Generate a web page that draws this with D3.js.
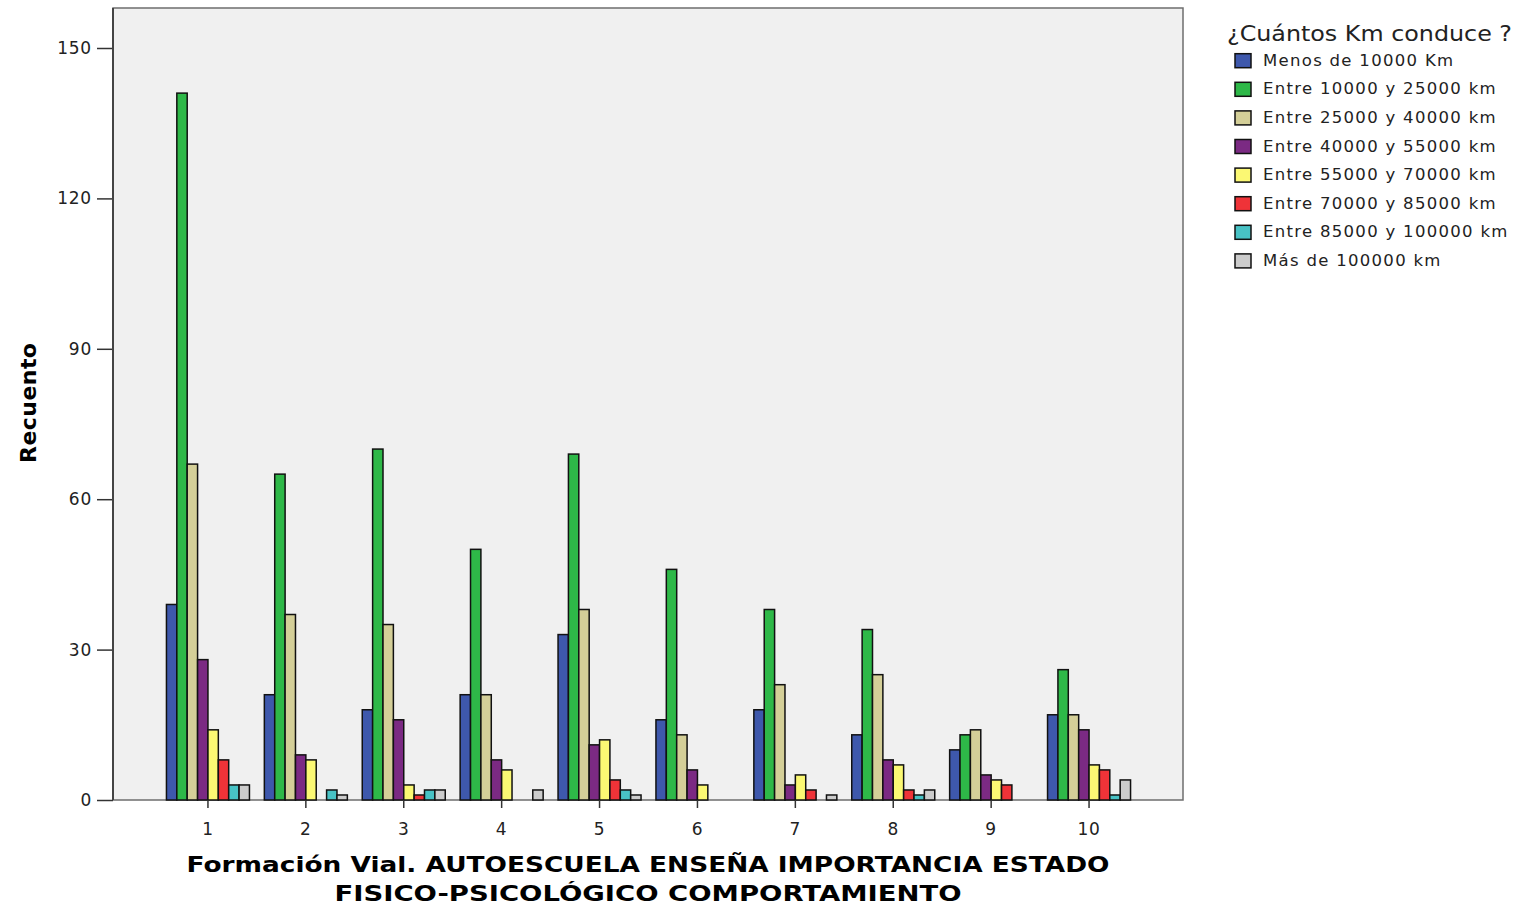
<!DOCTYPE html>
<html>
<head>
<meta charset="utf-8">
<script src="https://cdn.jsdelivr.net/npm/d3@7"></script>
<style>
  body { margin: 0; background: #fff; }
  text { font-family: "DejaVu Sans", Verdana, sans-serif; }
</style>
</head>
<body>
<svg id="chart" width="1522" height="910"></svg>
<script>
// Data
const categories = ["1", "2", "3", "4", "5", "6", "7", "8", "9", "10"];
const seriesNames = [
  "Menos de 10000 Km",
  "Entre 10000 y 25000 km",
  "Entre 25000 y 40000 km",
  "Entre 40000 y 55000 km",
  "Entre 55000 y 70000 km",
  "Entre 70000 y 85000 km",
  "Entre 85000 y 100000 km",
  "Más de 100000 km"
];
const menos10000 = [39, 21, 18, 21, 33, 16, 18, 13, 10, 17];
const e10000_25000 = [141, 65, 70, 50, 69, 46, 38, 34, 13, 26];
const e25000_40000 = [67, 37, 35, 21, 38, 13, 23, 25, 14, 17];
const e40000_55000 = [28, 9, 16, 8, 11, 6, 3, 8, 5, 14];
const e55000_70000 = [14, 8, 3, 6, 12, 3, 5, 7, 4, 7];
const e70000_85000 = [8, 0, 1, 0, 4, 0, 2, 2, 3, 6];
const e85000_100000 = [3, 2, 2, 0, 2, 0, 0, 1, 0, 1];
const mas100000 = [3, 1, 2, 2, 1, 0, 1, 2, 0, 4];
const seriesValues = [menos10000, e10000_25000, e25000_40000, e40000_55000,
  e55000_70000, e70000_85000, e85000_100000, mas100000];
const colors = ["#3e58ac", "#2eb848", "#d4cf98", "#7b2a83", "#fbf873", "#ef3338", "#48c2c5", "#cccccc"];
const yTicks = [0, 30, 60, 90, 120, 150];

const svg = d3.select("#chart");
const plot = { left: 113, top: 8, right: 1183, bottom: 800 };

// Scales
const x = d3.scaleBand().domain(categories).range([159, 1138]);
const xInner = d3.scaleBand().domain(d3.range(seriesNames.length)).range([-41.5, 41.5]);
const y = d3.scaleLinear().domain([0, 150]).range([plot.bottom, 48]);

// Plot background
svg.append("rect")
  .attr("x", plot.left).attr("y", plot.top)
  .attr("width", plot.right - plot.left).attr("height", plot.bottom - plot.top)
  .attr("fill", "#f0f0f0")
  .attr("stroke", "#6e6e6e")
  .attr("stroke-width", 1.5);

// Bars
const groups = svg.selectAll(".grp")
  .data(categories)
  .enter()
  .append("g")
  .attr("class", "grp")
  .attr("transform", (d) => "translate(" + (x(d) + x.bandwidth() / 2) + ",0)");

groups.selectAll("rect")
  .data((d, i) => seriesValues.map((s, k) => ({ k: k, v: s[i] })).filter((e) => e.v > 0))
  .enter()
  .append("rect")
  .attr("x", (d) => xInner(d.k))
  .attr("width", xInner.bandwidth())
  .attr("y", (d) => y(d.v))
  .attr("height", (d) => y(0) - y(d.v))
  .attr("fill", (d) => colors[d.k])
  .attr("stroke", "#111")
  .attr("stroke-width", 1.5);

// Axes
const yAxis = svg.append("g")
  .attr("transform", "translate(" + plot.left + ",0)")
  .call(d3.axisLeft(y).tickValues(yTicks).tickSize(16).tickPadding(5));
yAxis.select(".domain").remove();
yAxis.selectAll("line").attr("stroke", "#333").attr("stroke-width", 1.5);
yAxis.selectAll("text").attr("font-size", 17).attr("letter-spacing", 0.8).attr("fill", "#222");

svg.append("line")
  .attr("x1", plot.left).attr("x2", plot.left)
  .attr("y1", plot.top).attr("y2", plot.bottom)
  .attr("stroke", "#444").attr("stroke-width", 2);

const xAxis = svg.append("g")
  .attr("transform", "translate(0," + plot.bottom + ")")
  .call(d3.axisBottom(x).tickSize(8).tickPadding(15));
xAxis.select(".domain").remove();
xAxis.selectAll("line").attr("stroke", "#333").attr("stroke-width", 1.5);
xAxis.selectAll("text").attr("font-size", 17).attr("letter-spacing", 0.8).attr("fill", "#222");

// Axis titles
svg.append("text")
  .attr("transform", "translate(36,403) rotate(-90)")
  .attr("text-anchor", "middle")
  .attr("font-size", 22)
  .attr("font-weight", "bold")
  .attr("textLength", 120)
  .attr("lengthAdjust", "spacing")
  .text("Recuento");

svg.append("text")
  .attr("x", 648).attr("y", 872)
  .attr("text-anchor", "middle")
  .attr("font-size", 21)
  .attr("font-weight", "bold")
  .attr("textLength", 923)
  .attr("lengthAdjust", "spacingAndGlyphs")
  .text("Formación Vial. AUTOESCUELA ENSEÑA IMPORTANCIA ESTADO");
svg.append("text")
  .attr("x", 648).attr("y", 901)
  .attr("text-anchor", "middle")
  .attr("font-size", 21)
  .attr("font-weight", "bold")
  .attr("textLength", 627)
  .attr("lengthAdjust", "spacingAndGlyphs")
  .text("FISICO-PSICOLÓGICO COMPORTAMIENTO");

// Legend
const legend = svg.append("g").attr("transform", "translate(1227,0)");
legend.append("text")
  .attr("x", 0).attr("y", 41)
  .attr("font-size", 21)
  .attr("textLength", 285)
  .attr("lengthAdjust", "spacingAndGlyphs")
  .attr("fill", "#222")
  .text("¿Cuántos Km conduce ?");
const items = legend.selectAll(".item")
  .data(seriesNames)
  .enter()
  .append("g")
  .attr("transform", (d, i) => "translate(0," + (65.7 + i * 28.6) + ")");
items.append("rect")
  .attr("x", 8).attr("y", -12)
  .attr("width", 16).attr("height", 14)
  .attr("fill", (d, i) => colors[i])
  .attr("stroke", "#111")
  .attr("stroke-width", 1.5);
items.append("text")
  .attr("x", 36).attr("y", 0)
  .attr("font-size", 16.5)
  .attr("letter-spacing", 1.3)
  .attr("fill", "#222")
  .text((d) => d);
</script>
</body>
</html>
